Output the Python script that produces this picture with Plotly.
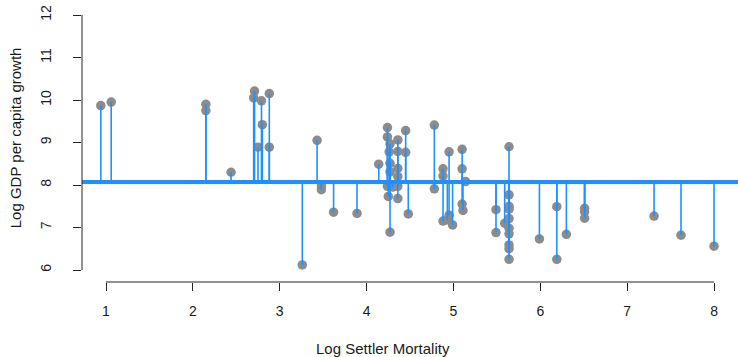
import plotly.graph_objects as go

# Log settler mortality (x) and log GDP per capita (y), one entry per country
log_mortality = [
    0.94, 1.06, 2.15, 2.15, 2.44, 2.71, 2.70, 2.79, 2.80, 2.75, 2.88, 2.88,
    3.26, 3.43, 3.48, 3.48, 3.62, 3.89, 4.14,
    4.24, 4.24, 4.24, 4.25, 4.27, 4.26, 4.27, 4.27, 4.27, 4.30,
    4.36, 4.36, 4.36, 4.36, 4.36, 4.36, 4.45, 4.45, 4.48,
    4.78, 4.78, 4.88, 4.88, 4.88, 4.95, 4.95, 4.93, 4.99,
    5.10, 5.10, 5.14, 5.10, 5.11, 5.49, 5.49,
    5.64, 5.64, 5.64, 5.64, 5.64, 5.59, 5.64, 5.64, 5.64, 5.64, 5.64,
    5.99, 6.19, 6.19, 6.30, 6.51, 6.51, 6.51, 7.31, 7.62, 8.00,
]
log_gdp = [
    9.87, 9.95, 9.90, 9.75, 8.30, 10.21, 10.05, 9.98, 9.42, 8.89, 10.15, 8.89,
    6.12, 9.05, 7.98, 7.89, 7.36, 7.33, 8.49,
    9.35, 9.13, 7.97, 7.73, 8.97, 8.78, 8.51, 8.31, 6.89, 7.95,
    9.06, 8.79, 8.39, 8.20, 7.97, 7.68, 9.28, 8.77, 7.32,
    9.41, 7.91, 8.38, 8.21, 7.15, 8.78, 7.29, 7.18, 7.06,
    8.84, 8.38, 8.08, 7.55, 7.40, 7.42, 6.88,
    8.90, 7.77, 7.50, 7.43, 7.21, 7.10, 6.98, 6.85, 6.59, 6.50, 6.25,
    6.73, 7.49, 6.25, 6.84, 7.45, 7.37, 7.22, 7.27, 6.82, 6.56,
]
# Reference level (average log GDP) the stems hang from
baseline_gdp = 8.07

x_ticks = [1, 2, 3, 4, 5, 6, 7, 8]
y_ticks = [6, 7, 8, 9, 10, 11, 12]

BLUE = "#1E90FF"
GREY = "#8C8C8C"
AXIS = "#222222"
TEXT = "#1a1a1a"
FONT = "Liberation Sans"

# Vertical stems from the baseline to each observation
stem_x, stem_y = [], []
for xv, yv in zip(log_mortality, log_gdp):
    stem_x += [xv, xv, None]
    stem_y += [baseline_gdp, yv, None]

fig = go.Figure()
fig.add_trace(go.Scatter(
    x=log_mortality, y=log_gdp, mode="markers",
    marker=dict(size=9.5, color=GREY, line=dict(width=0)),
    hoverinfo="skip", showlegend=False,
))
fig.add_trace(go.Scatter(
    x=stem_x, y=stem_y, mode="lines",
    line=dict(color=BLUE, width=1.6),
    hoverinfo="skip", showlegend=False,
))

# Baseline across the full panel
fig.add_shape(type="line", xref="paper", yref="y", x0=0, x1=1,
              y0=baseline_gdp, y1=baseline_gdp,
              line=dict(color=BLUE, width=4), layer="above")
# Axis lines spanning only the tick range
fig.add_shape(type="line", xref="paper", yref="y", x0=0, x1=0,
              y0=y_ticks[0], y1=y_ticks[-1],
              line=dict(color=AXIS, width=1))
fig.add_shape(type="line", xref="x", yref="paper", x0=x_ticks[0], x1=x_ticks[-1],
              y0=0, y1=0, line=dict(color=AXIS, width=1))

fig.add_annotation(text="Log Settler Mortality", xref="paper", yref="paper",
                   x=(383 - 82) / 656, y=0, yshift=-66, showarrow=False,
                   xanchor="center", yanchor="middle",
                   font=dict(family=FONT, size=15, color=TEXT))
fig.add_annotation(text="Log GDP per capita growth", xref="paper", yref="y",
                   x=0, y=9.1, xshift=-67, showarrow=False, textangle=-90,
                   xanchor="center", yanchor="middle",
                   font=dict(family=FONT, size=15, color=TEXT))

fig.update_xaxes(
    range=[0.7237, 8.2761], tickvals=x_ticks, ticktext=[str(v) for v in x_ticks],
    ticks="outside", ticklen=8, tickwidth=1, tickcolor=AXIS,
    ticklabelstandoff=8,
    showgrid=False, zeroline=False, showline=False,
    tickfont=dict(family=FONT, size=14, color=TEXT),
)
fig.update_yaxes(
    range=[5.7176, 12.1176], tickvals=y_ticks, ticktext=[str(v) for v in y_ticks],
    ticks="outside", ticklen=8, tickwidth=1, tickcolor=AXIS, tickangle=-90,
    ticklabelstandoff=16,
    showgrid=False, zeroline=False, showline=False,
    tickfont=dict(family=FONT, size=14, color=TEXT),
)
fig.update_layout(
    width=738, height=357,
    margin=dict(l=82, r=0, t=10, b=75),
    plot_bgcolor="white", paper_bgcolor="white",
    showlegend=False,
)
fig.write_html("out.html")
